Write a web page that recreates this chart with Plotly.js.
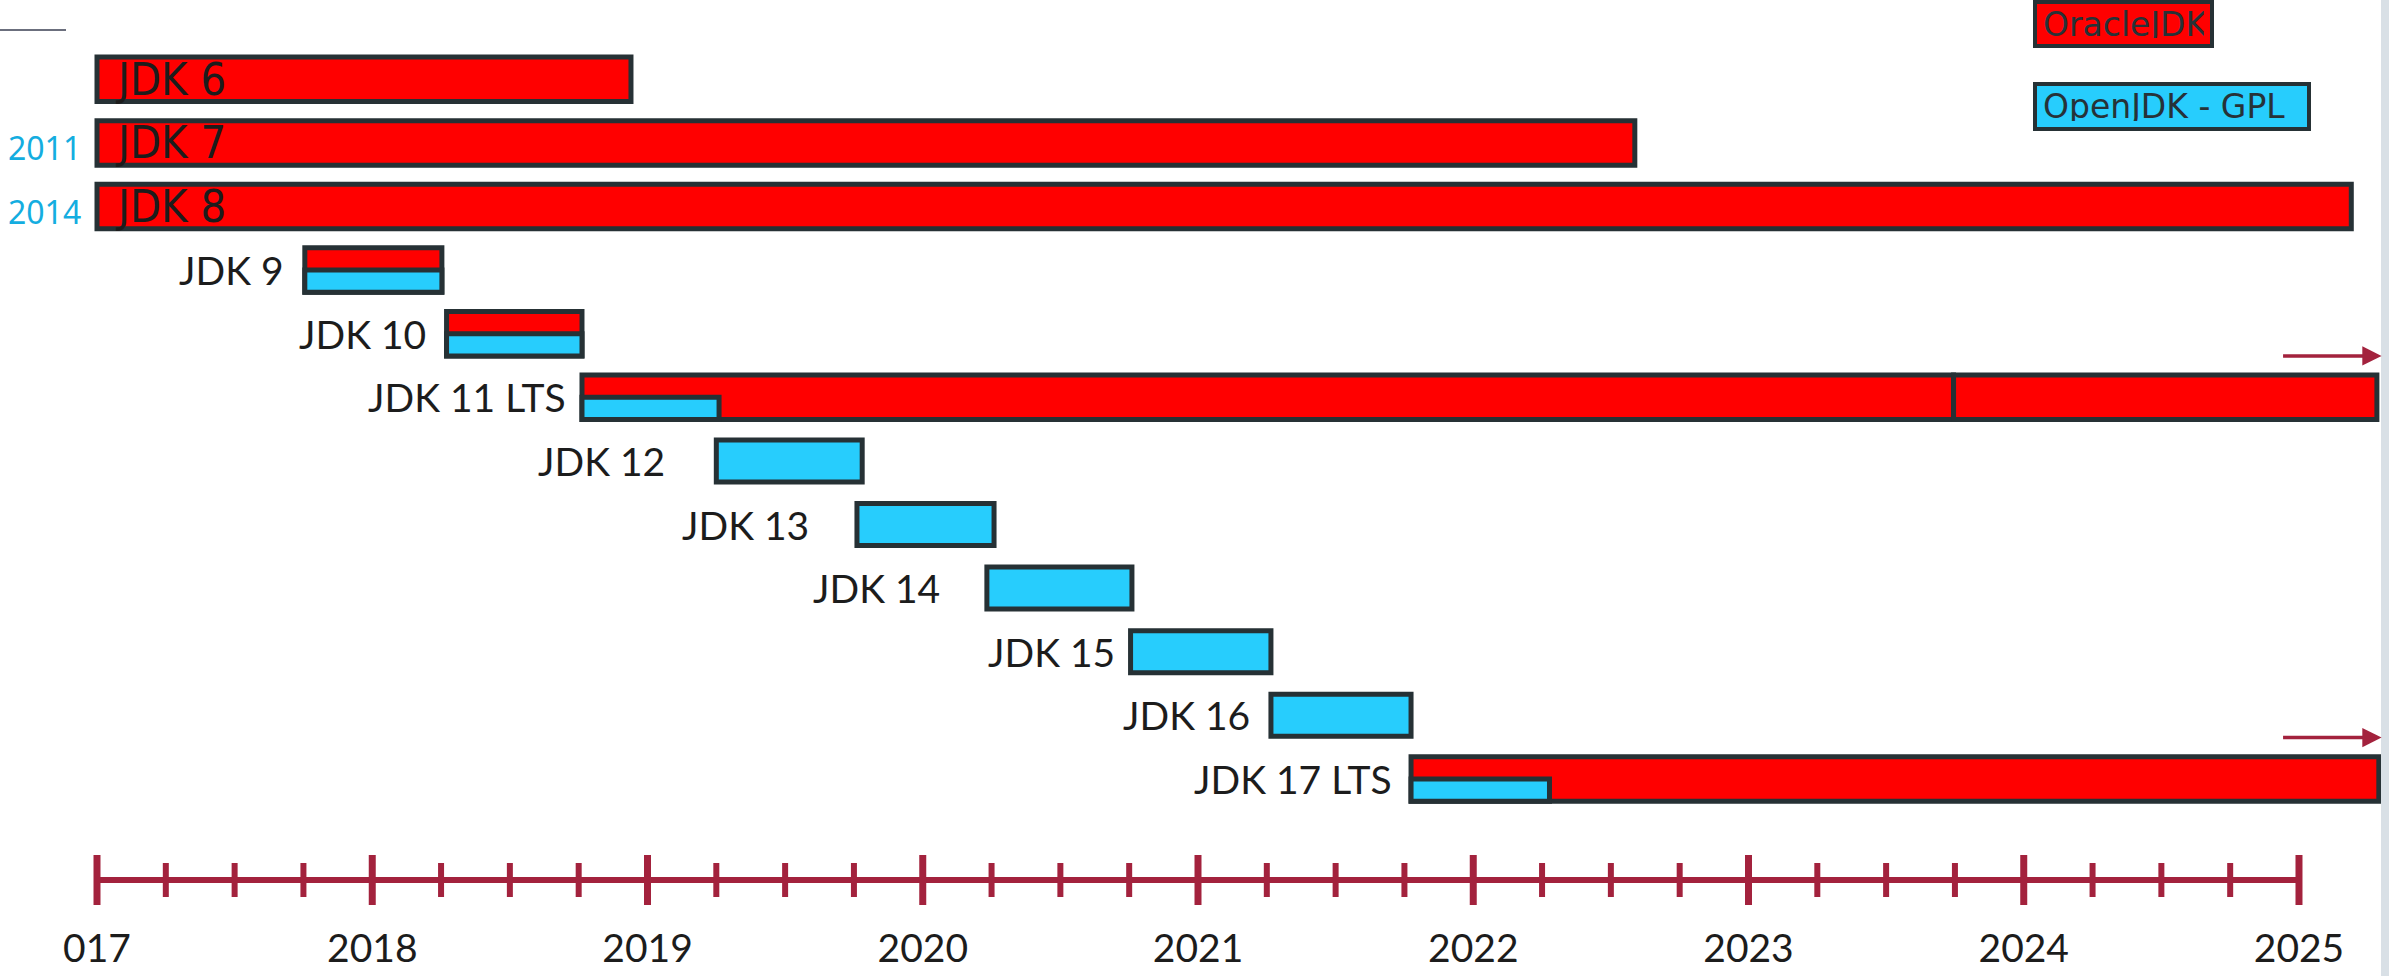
<!DOCTYPE html>
<html>
<head>
<meta charset="utf-8">
<script src="https://cdn.plot.ly/plotly-3.0.1.min.js"></script>
<style>
  html, body { margin: 0; padding: 0; background: #ffffff; }
  #chart { width: 2389px; height: 976px; }
</style>
</head>
<body>
<div id="chart"></div>
<script>
// ---------------- data ----------------
const versions = ['JDK 6', 'JDK 7', 'JDK 8', 'JDK 9', 'JDK 10', 'JDK 11 LTS',
                  'JDK 12', 'JDK 13', 'JDK 14', 'JDK 15', 'JDK 16', 'JDK 17 LTS'];

// OracleJDK support period (fractional years)
const oracleStart = [2017.0, 2017.0, 2017.0, 2017.755, 2018.27, 2018.762,
                     null, null, null, null, null, 2021.774];
const oracleEnd   = [2018.94, 2022.587, 2025.19, 2018.253, 2018.762, 2023.745,
                     null, null, null, null, null, 2025.29];

// OracleJDK extended segment (JDK 11 after Sept 2023)
const oracleExtStart = [null, null, null, null, null, 2023.745, null, null, null, null, null, null];
const oracleExtEnd   = [null, null, null, null, null, 2025.283, null, null, null, null, null, null];

// OpenJDK - GPL update period
const openStart = [null, null, null, 2017.755, 2018.27, 2018.762,
                   2019.25, 2019.761, 2020.233, 2020.755, 2021.265, 2021.774];
const openEnd   = [null, null, null, 2018.253, 2018.762, 2019.26,
                   2019.78, 2020.259, 2020.76, 2021.265, 2021.774, 2022.277];

// release-year notes shown at the left edge
const releaseNotes = ['', '2011', '2014', '', '', '', '', '', '', '', '', ''];

// support continues beyond the chart
const continues = [false, false, false, false, false, true, false, false, false, false, false, true];

// timeline axis
const tickYears  = [2017, 2018, 2019, 2020, 2021, 2022, 2023, 2024, 2025];
const tickLabels = ['017', '2018', '2019', '2020', '2021', '2022', '2023', '2024', '2025'];

const legendOracle = 'OracleJDK';
const legendOpen   = 'OpenJDK - GPL';

// ---------------- style ----------------
const C_RED = '#ff0000', C_CYAN = '#27cdfd', C_EDGE = '#263135';
const C_AXIS = '#a3223d', C_TEXT = '#1c1c1c', C_NOTE = '#14ade0';
const BAR_W = 0.70, OPEN_W = 0.66, HALF_W = 0.35;
const X_RANGE = [2016.6476, 2025.327];
const PLOT_H = 906;                       // plot area height in px (margin b = 70)
const ROW0 = 79.3, ROW_PX = 63.6;         // pixel centre of first row, px per row
const Y_TOP = -ROW0 / ROW_PX;
const Y_BOTTOM = (PLOT_H - ROW0) / ROW_PX;
const Y_AXIS = (880 - ROW0) / ROW_PX;     // timeline line position
const YEAR_TICK = 25 / ROW_PX, QUARTER_TICK = 17 / ROW_PX;   // half tick lengths
const labelGap = [0, 0, 0, 19, 19, 14, 49, 46, 45, 14, 19, 17];

// ---------------- traces ----------------
function segTrace(starts, ends, color, widthFn, offsetFn) {
  const y = [], base = [], x = [], w = [], off = [];
  versions.forEach((v, i) => {
    if (starts[i] == null) return;
    y.push(i); base.push(starts[i]); x.push(ends[i] - starts[i]);
    w.push(widthFn(i)); off.push(offsetFn(i));
  });
  return {
    type: 'bar', orientation: 'h', y: y, base: base, x: x,
    width: w, offset: off,
    marker: { color: color, line: { color: C_EDGE, width: 5 } },
    hoverinfo: 'skip', showlegend: false
  };
}

const oracleTrace = segTrace(oracleStart, oracleEnd, C_RED, () => BAR_W, () => -BAR_W / 2);
const oracleExtTrace = segTrace(oracleExtStart, oracleExtEnd, C_RED, () => BAR_W, () => -BAR_W / 2);
const openTrace = segTrace(openStart, openEnd, C_CYAN,
  i => oracleStart[i] != null ? HALF_W : OPEN_W,
  i => oracleStart[i] != null ? 0 : -OPEN_W / 2);

// timeline: axis line + year / quarter ticks (drawn as line segments)
const yearTickX = [], yearTickY = [], qTickX = [], qTickY = [];
tickYears.forEach((yr, k) => {
  yearTickX.push(yr, yr, null);
  yearTickY.push(Y_AXIS - YEAR_TICK, Y_AXIS + YEAR_TICK, null);
  if (k < tickYears.length - 1) {
    [0.25, 0.5, 0.75].forEach(q => {
      qTickX.push(yr + q, yr + q, null);
      qTickY.push(Y_AXIS - QUARTER_TICK, Y_AXIS + QUARTER_TICK, null);
    });
  }
});
const axisLine = {
  type: 'scatter', mode: 'lines',
  x: [tickYears[0], tickYears[tickYears.length - 1]], y: [Y_AXIS, Y_AXIS],
  line: { color: C_AXIS, width: 6 }, hoverinfo: 'skip', showlegend: false
};
const yearTicks = {
  type: 'scatter', mode: 'lines', x: yearTickX, y: yearTickY, connectgaps: false,
  line: { color: C_AXIS, width: 7 }, hoverinfo: 'skip', showlegend: false
};
const quarterTicks = {
  type: 'scatter', mode: 'lines', x: qTickX, y: qTickY, connectgaps: false,
  line: { color: C_AXIS, width: 6 }, hoverinfo: 'skip', showlegend: false
};

// ---------------- annotations ----------------
const annotations = [];
versions.forEach((v, i) => {
  const start = oracleStart[i] != null ? oracleStart[i] : openStart[i];
  if (i < 3) {
    annotations.push({
      x: start, y: i, xref: 'x', yref: 'y', text: v, showarrow: false,
      xanchor: 'left', yanchor: 'middle', xshift: 16,
      font: { family: '"Liberation Sans Narrow", "DejaVu Sans Condensed", sans-serif', size: 45, color: C_TEXT }
    });
  } else {
    annotations.push({
      x: start, y: i, xref: 'x', yref: 'y', text: v, showarrow: false,
      xanchor: 'right', yanchor: 'middle', xshift: -labelGap[i],
      font: { family: 'Lato, "Open Sans", sans-serif', size: 39, color: C_TEXT }
    });
  }
  if (releaseNotes[i]) {
    annotations.push({
      x: 6 / 2389, y: i, xref: 'paper', yref: 'y', text: releaseNotes[i], showarrow: false,
      xanchor: 'left', yanchor: 'middle', yshift: -5,
      font: { family: '"Noto Sans", sans-serif', size: 32, color: C_NOTE }
    });
  }
  if (continues[i]) {
    annotations.push({
      x: 2025.30, y: i - 0.65, xref: 'x', yref: 'y', text: '', showarrow: true,
      ax: -100, ay: 0, arrowhead: 2, arrowsize: 1.1, arrowwidth: 3.5, arrowcolor: C_AXIS, standoff: 0
    });
  }
});

// legend boxes
annotations.push({
  x: 2033 / 2389, y: 1 - 24 / PLOT_H, xref: 'paper', yref: 'paper', xanchor: 'left', yanchor: 'middle',
  text: legendOracle, showarrow: false, align: 'left', width: 161, height: 28,
  bgcolor: C_RED, bordercolor: C_EDGE, borderwidth: 4, borderpad: 6,
  font: { family: '"DejaVu Sans", sans-serif', size: 33, color: '#263238' }
});
annotations.push({
  x: 2033 / 2389, y: 1 - 106.5 / PLOT_H, xref: 'paper', yref: 'paper', xanchor: 'left', yanchor: 'middle',
  text: legendOpen, showarrow: false, align: 'left', width: 258, height: 29,
  bgcolor: C_CYAN, bordercolor: C_EDGE, borderwidth: 4, borderpad: 6,
  font: { family: '"DejaVu Sans", sans-serif', size: 33, color: '#263238' }
});

const layout = {
  width: 2389, height: 976,
  margin: { l: 0, r: 0, t: 0, b: 976 - PLOT_H, pad: 0 },
  paper_bgcolor: '#ffffff', plot_bgcolor: '#ffffff',
  barmode: 'overlay', hovermode: false, showlegend: false,
  xaxis: {
    range: X_RANGE, showgrid: false, zeroline: false, showline: false,
    tickmode: 'array', tickvals: tickYears, ticktext: tickLabels,
    ticks: 'outside', ticklen: 8, tickcolor: 'rgba(0,0,0,0)',
    tickfont: { family: 'Lato, "Open Sans", sans-serif', size: 39, color: C_TEXT }
  },
  yaxis: {
    range: [Y_BOTTOM, Y_TOP], showgrid: false, zeroline: false, showline: false,
    showticklabels: false, ticks: ''
  },
  annotations: annotations,
  shapes: [
    { type: 'line', xref: 'paper', yref: 'paper', x0: 0, x1: 66 / 2389, y0: 1 - 30 / PLOT_H, y1: 1 - 30 / PLOT_H,
      line: { color: '#6b6f7d', width: 2 } },
    { type: 'rect', xref: 'paper', yref: 'paper', x0: 2381 / 2389, x1: 1, y0: -(976 - PLOT_H) / PLOT_H, y1: 1,
      fillcolor: '#d9e0e6', line: { width: 0 }, layer: 'above' }
  ]
};

Plotly.newPlot('chart',
  [oracleTrace, oracleExtTrace, openTrace, axisLine, yearTicks, quarterTicks], layout,
  { staticPlot: true, displayModeBar: false });
</script>
</body>
</html>
